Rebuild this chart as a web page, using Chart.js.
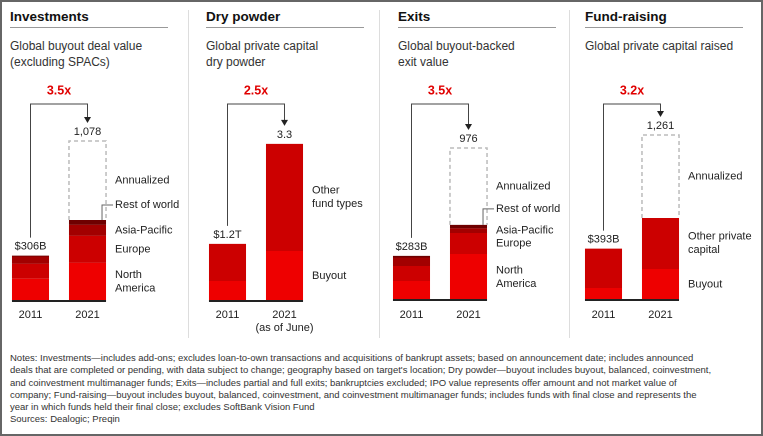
<!DOCTYPE html>
<html><head><meta charset="utf-8">
<script src="https://cdn.jsdelivr.net/npm/chart.js@4"></script>
<style>
body{margin:0;background:#fff;font-family:"Liberation Sans",Arial,sans-serif;color:#222}
#wrap{position:relative;width:759px;height:432px;border:2px solid #666;overflow:hidden}
canvas{position:absolute;top:0}
.t{position:absolute;top:7px;font-weight:bold;font-size:13.5px;color:#111}
.u{position:absolute;top:25px;height:1px;background:#999;width:158px}
.s{position:absolute;top:36px;font-size:12px;line-height:16px;color:#333}
.sep{position:absolute;top:8px;height:328px;width:1px;background:#ddd}
#notes{position:absolute;left:8px;top:350px;font-size:9.5px;line-height:12.3px;color:#333;white-space:nowrap}
</style></head><body>
<div id="wrap">
<div class="sep" style="left:186px"></div><div class="sep" style="left:377px"></div><div class="sep" style="left:567px"></div>
<div class="t" style="left:8px">Investments</div><div class="u" style="left:8px"></div>
<div class="s" style="left:8px">Global buyout deal value<br>(excluding SPACs)</div>
<div class="t" style="left:204px">Dry powder</div><div class="u" style="left:204px"></div>
<div class="s" style="left:204px">Global private capital<br>dry powder</div>
<div class="t" style="left:396px">Exits</div><div class="u" style="left:396px"></div>
<div class="s" style="left:396px">Global buyout-backed<br>exit value</div>
<div class="t" style="left:583px">Fund-raising</div><div class="u" style="left:583px"></div>
<div class="s" style="left:583px">Global private capital raised</div>
<canvas id="c0" width="188" height="340" style="left:-2px"></canvas>
<canvas id="c1" width="188" height="340" style="left:188px"></canvas>
<canvas id="c2" width="188" height="340" style="left:378px"></canvas>
<canvas id="c3" width="188" height="340" style="left:569px"></canvas>
<div id="notes">Notes: Investments—includes add-ons; excludes loan-to-own transactions and acquisitions of bankrupt assets; based on announcement date; includes announced<br>deals that are completed or pending, with data subject to change; geography based on target's location; Dry powder—buyout includes buyout, balanced, coinvestment,<br>and coinvestment multimanager funds; Exits—includes partial and full exits; bankruptcies excluded; IPO value represents offer amount and not market value of<br>company; Fund-raising—buyout includes buyout, balanced, coinvestment, and coinvestment multimanager funds; includes funds with final close and represents the<br>year in which funds held their final close; excludes SoftBank Vision Fund<br>Sources: Dealogic; Preqin</div>
</div>
<script>
// ---- data ----
const years = ['2011','2021'];
const invSegments = ['North\nAmerica','Europe','Asia-Pacific','Rest of world'];
const inv2011 = [150,100,50,6];
const inv2021 = [257,182,74,33];
const invAnnualized = 1078;
const invLabels = ['$306B','1,078'];
const invMultiple = '3.5x';

const dryCategories = ['Buyout','Other\nfund types'];
const dry2011 = [0.42,0.78];
const dry2021 = [1.05,2.25];
const dryLabels = ['$1.2T','3.3'];
const dryMultiple = '2.5x';

const exitSegments = ['North\nAmerica','Europe','Asia-Pacific','Rest of world'];
const exit2011 = [122,96,55,10];
const exit2021 = [295,135,30,22];
const exitAnnualized = 976;
const exitLabels = ['$283B','976'];
const exitMultiple = '3.5x';

const fundCategories = ['Buyout','Other private\ncapital'];
const fund2011 = [92,301];
const fund2021 = [237,390];
const fundAnnualized = 1261;
const fundLabels = ['$393B','1,261'];
const fundMultiple = '3.2x';

const colors = ['#ee0000','#cc0000','#a20000','#6e0000'];
const FONT = '"Liberation Sans", Arial, sans-serif';

const panels = [
 {id:'c0',segs:invSegments,a:inv2011,b:inv2021,ann:invAnnualized,labels:invLabels,mult:invMultiple,padL:2,max:1341,base:41,leader:[false,false,false,true],sub:null},
 {id:'c1',segs:dryCategories,a:dry2011,b:dry2021,ann:null,labels:dryLabels,mult:dryMultiple,padL:9,max:4.18,base:41,leader:[false,false],sub:'(as of June)'},
 {id:'c2',segs:exitSegments,a:exit2011,b:exit2021,ann:exitAnnualized,labels:exitLabels,mult:exitMultiple,padL:3,max:1271,base:42,leader:[false,false,false,true],sub:null,tight:true},
 {id:'c3',segs:fundCategories,a:fund2011,b:fund2021,ann:fundAnnualized,labels:fundLabels,mult:fundMultiple,padL:4,max:1513,base:42,leader:[false,false],sub:null}
];

const annot = {
 id:'annot',
 afterDatasetsDraw(chart){
  const p = chart.options.plugins.annot.p;
  const ctx = chart.ctx, y = chart.scales.y;
  const m = chart.getDatasetMeta(0);
  const b0 = m.data[0], b1 = m.data[1];
  const w = b0.width;
  const l0 = b0.x-w/2, r1 = b1.x+w/2, l1 = b1.x-w/2;
  const t0 = p.a.reduce((s,v)=>s+v,0), t1 = p.b.reduce((s,v)=>s+v,0);
  const top1 = p.ann ? p.ann : t1;
  ctx.save();
  // baseline
  ctx.strokeStyle='#222';ctx.lineWidth=2;
  ctx.beginPath();ctx.moveTo(l0,y.getPixelForValue(0));ctx.lineTo(r1,y.getPixelForValue(0));ctx.stroke();
  // dashed annualized box
  if(p.ann){
   ctx.strokeStyle='#bbb';ctx.lineWidth=1.5;ctx.setLineDash([4,3]);
   const ya=y.getPixelForValue(p.ann), yt=y.getPixelForValue(t1);
   ctx.beginPath();ctx.moveTo(l1,yt);ctx.lineTo(l1,ya);ctx.lineTo(r1,ya);ctx.lineTo(r1,yt);ctx.stroke();
   ctx.setLineDash([]);
  }
  ctx.fillStyle='#222';ctx.font='11px '+FONT;ctx.textAlign='center';ctx.textBaseline='middle';
  const ly0=y.getPixelForValue(t0)-9, ly1=y.getPixelForValue(top1)-9;
  ctx.fillText(p.labels[0],b0.x,ly0);
  ctx.fillText(p.labels[1],b1.x,ly1);
  // bracket
  const by=102, tip=ly1-10;
  ctx.strokeStyle='#444';ctx.lineWidth=1;
  ctx.beginPath();ctx.moveTo(b0.x,ly0-9);ctx.lineTo(b0.x,by);ctx.lineTo(b1.x,by);ctx.lineTo(b1.x,tip-4);ctx.stroke();
  ctx.fillStyle='#222';ctx.beginPath();ctx.moveTo(b1.x-3.5,tip-5);ctx.lineTo(b1.x+3.5,tip-5);ctx.lineTo(b1.x,tip+1);ctx.fill();
  ctx.fillStyle='#e00000';ctx.font='bold 12.5px '+FONT;
  ctx.fillText(p.mult,(b0.x+b1.x)/2,by-13);
  // years
  ctx.fillStyle='#222';ctx.font='11px '+FONT;
  ctx.fillText(years[0],b0.x,313);ctx.fillText(years[1],b1.x,313);
  if(p.sub) ctx.fillText(p.sub,b1.x,326);
  // segment labels
  ctx.textAlign='left';
  let cum=0;
  const tx=r1+9;
  p.segs.forEach((s,i)=>{
   const yb=y.getPixelForValue(cum), yt=y.getPixelForValue(cum+p.b[i]);
   cum+=p.b[i];
   let yc=(yb+yt)/2;
   if(p.leader[i]){
    yc=yt-(p.tight?16:15);
    ctx.strokeStyle='#666';ctx.lineWidth=1;
    ctx.beginPath();ctx.moveTo(r1-4,yt);ctx.lineTo(r1-4,yc);ctx.lineTo(tx-2,yc);ctx.stroke();
   }
   const lines=s.split('\n');
   lines.forEach((ln,k)=>ctx.fillText(ln,tx,yc+(k-(lines.length-1)/2)*13.5));
  });
  if(p.ann){
   const yc=(y.getPixelForValue(p.ann)+y.getPixelForValue(t1))/2;
   ctx.fillText('Annualized',tx,yc);
  }
  ctx.restore();
 }
};

panels.forEach(p=>{
 const ds = p.segs.map((s,i)=>({label:s.replace('\n',' '),data:[p.a[i],p.b[i]],backgroundColor:colors[i],borderWidth:0,barPercentage:0.65,categoryPercentage:1}));
 new Chart(document.getElementById(p.id),{
  type:'bar',
  data:{labels:years,datasets:ds},
  options:{responsive:false,animation:false,devicePixelRatio:2,
   layout:{padding:{left:p.padL,right:188-p.padL-114,top:100,bottom:p.base}},
   plugins:{legend:{display:false},tooltip:{enabled:false},annot:{p}},
   scales:{x:{stacked:true,display:false},y:{stacked:true,display:false,min:0,max:p.max}}
  },
  plugins:[annot]
 });
});
</script>
</body></html>
